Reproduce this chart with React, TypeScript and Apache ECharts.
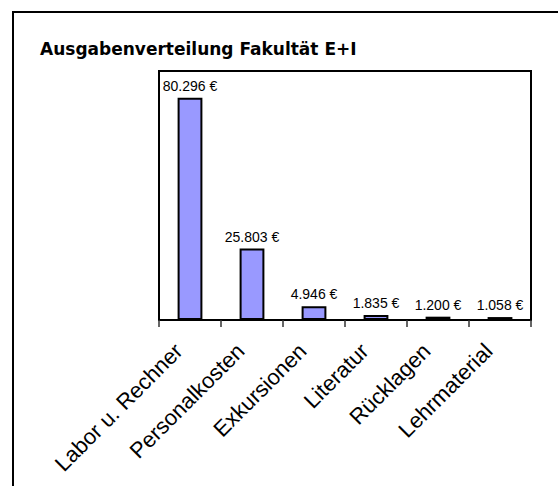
import React, { useEffect, useRef } from "react";
import * as echarts from "echarts";

const categories = ["Labor u. Rechner", "Personalkosten", "Exkursionen", "Literatur", "Rücklagen", "Lehrmaterial"];
const values = [80296, 25803, 4946, 1835, 1200, 1058];
const titleText = "Ausgabenverteilung Fakultät E+I";

const fmt = (v: number) => v.toLocaleString("de-DE") + " €";

export default function App() {
  const ref = useRef<HTMLDivElement>(null);
  useEffect(() => {
    if (!ref.current) return;
    const chart = echarts.init(ref.current, undefined, { renderer: "svg" });
    chart.setOption({
      animation: false,
      backgroundColor: "#ffffff",
      title: {
        text: titleText,
        left: 40,
        top: 40,
        textStyle: { fontFamily: "DejaVu Sans", fontWeight: "bold", fontSize: 17, color: "#000" },
        padding: 0,
      },
      graphic: [
        {
          type: "rect",
          shape: { x: 13, y: 12, width: 700, height: 700 },
          style: { fill: "none", stroke: "#000", lineWidth: 2 },
          silent: true,
        },
      ],
      grid: {
        left: 159,
        top: 71,
        right: 27,
        bottom: 166,
        show: true,
        borderColor: "#000",
        borderWidth: 2,
        backgroundColor: "transparent",
      },
      xAxis: {
        type: "category",
        data: categories,
        axisLine: { show: true, lineStyle: { color: "#000", width: 2 } },
        axisTick: { show: true, length: 7, lineStyle: { color: "#333", width: 1.5 } },
        axisLabel: {
          interval: 0,
          rotate: 45,
          margin: 16,
          padding: [0, 16, 32, 0],
          fontFamily: "Liberation Sans, Arial",
          fontSize: 22,
          color: "#000",
        },
      },
      yAxis: {
        type: "value",
        min: 0,
        max: 90000,
        show: false,
        splitLine: { show: false },
      },
      series: [
        {
          type: "bar",
          data: values,
          barWidth: "40%",
          itemStyle: { color: "#9999ff", borderColor: "#000", borderWidth: 2 },
          label: {
            show: true,
            position: "top",
            distance: 5,
            formatter: (p: any) => fmt(p.value),
            fontFamily: "Liberation Sans, Arial",
            fontSize: 14,
            color: "#000",
          },
        },
      ],
    });
    return () => chart.dispose();
  }, []);
  return <div ref={ref} style={{ position: "fixed", left: 0, top: 0, width: 558, height: 486 }} />;
}
